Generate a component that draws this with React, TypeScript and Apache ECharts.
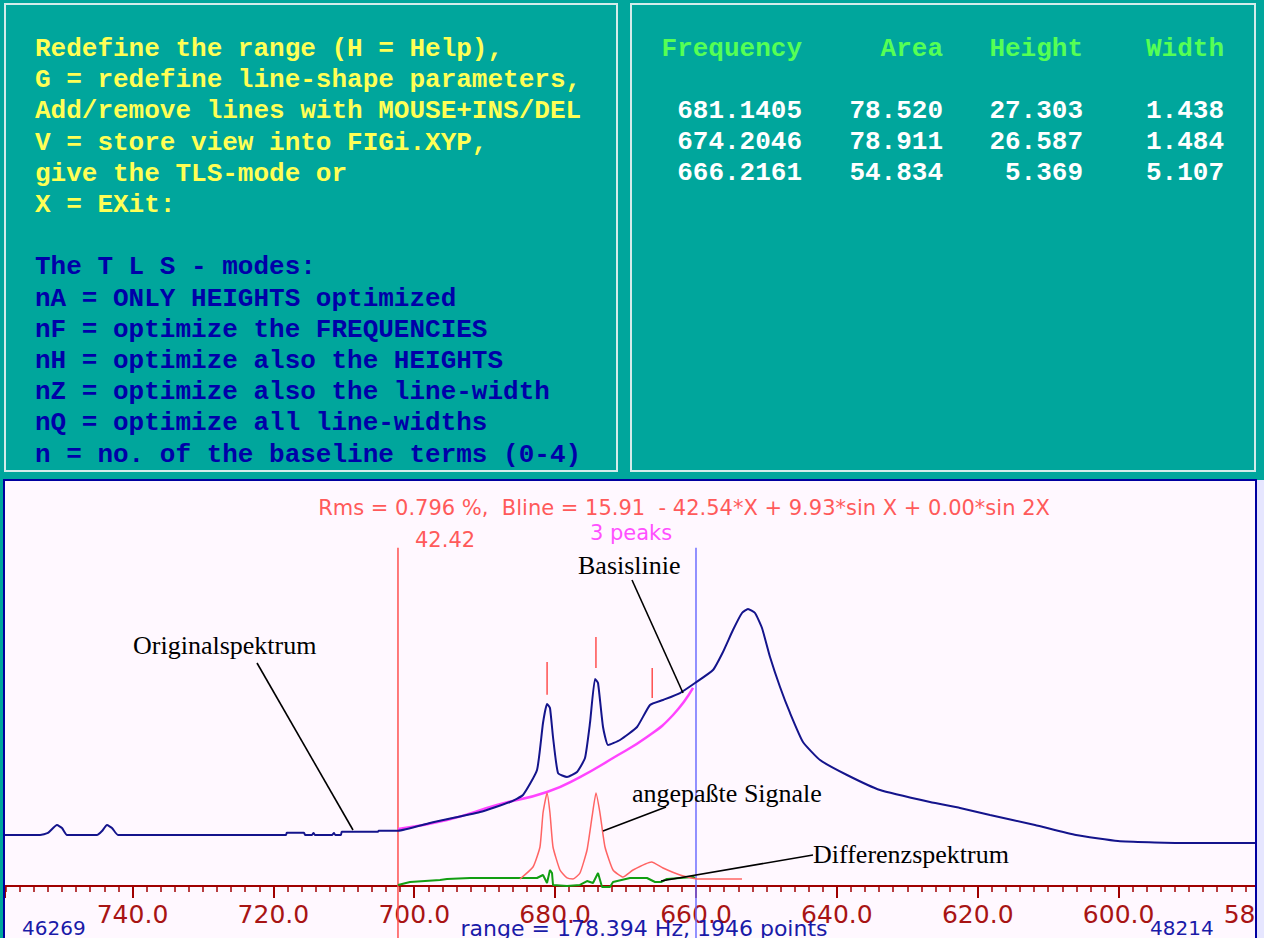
import React, { useEffect, useRef } from 'react';
import * as echarts from 'echarts';

// ---------- text of the DOS panels ----------
const helpLines = [
  'Redefine the range (H = Help),',
  'G = redefine line-shape parameters,',
  'Add/remove lines with MOUSE+INS/DEL',
  'V = store view into FIGi.XYP,',
  'give the TLS-mode or',
  'X = EXit:',
];
const modeLines = [
  'The T L S - modes:',
  'nA = ONLY HEIGHTS optimized',
  'nF = optimize the FREQUENCIES',
  'nH = optimize also the HEIGHTS',
  'nZ = optimize also the line-width',
  'nQ = optimize all line-widths',
  'n = no. of the baseline terms (0-4)',
];
const tableHeaders = ['Frequency', 'Area', 'Height', 'Width'];
const fitFrequencies = ['681.1405', '674.2046', '666.2161'];
const fitAreas = ['78.520', '78.911', '54.834'];
const fitHeights = ['27.303', '26.587', '5.369'];
const fitWidths = ['1.438', '1.484', '5.107'];

// ---------- spectrum data (frequency, intensity) ----------
const originalSpectrum: [number, number][] = [
  [758.1, 12.59], [753.13, 12.59], [752.0, 13.09], [750.72, 15.06], [750.01, 14.32], [749.3, 12.59],
  [745.04, 12.59], [744.33, 13.58], [743.62, 15.06], [742.91, 14.32], [742.06, 12.59], [718.21, 12.59],
  [718.1, 13.16], [715.65, 13.16], [715.5, 12.59], [714.52, 12.59], [714.3, 13.09], [714.1, 12.59],
  [711.68, 12.59], [711.4, 13.09], [711.2, 12.59], [710.4, 12.59], [710.3, 13.41], [705.15, 13.41],
  [705.05, 13.65], [702.31, 13.65], [697.76, 15.56], [690.66, 18.27], [686.41, 20.74], [684.56, 22.47],
  [682.57, 28.64], [681.72, 40.25], [681.15, 44.94], [680.73, 43.95], [680.3, 36.79], [679.59, 27.9],
  [678.31, 26.91], [676.89, 28.15], [675.76, 31.6], [675.05, 40.25], [674.34, 51.11], [673.91, 50.12],
  [673.2, 39.26], [672.49, 34.81], [670.79, 36.05], [668.37, 39.26], [666.53, 44.69], [664.68, 45.93],
  [662.27, 47.65], [660.14, 50.12], [657.59, 53.33], [656.17, 57.78], [654.75, 63.21], [653.47, 67.41],
  [652.62, 68.4], [651.62, 67.41], [650.63, 63.7], [649.49, 56.54], [648.07, 49.14], [646.65, 42.72],
  [644.81, 35.56], [642.39, 31.11], [638.56, 27.41], [633.88, 23.7], [626.78, 20.74], [622.52, 19.26],
  [618.26, 17.53], [611.87, 15.06], [606.05, 12.59], [600.09, 11.11], [591.29, 10.62], [580.64, 10.62],
];
const baselineFit: [number, number][] = [
  [702.31, 14.07], [695.35, 16.3], [688.25, 20.0], [681.15, 23.21], [676.47, 26.91],
  [671.78, 31.6], [666.96, 36.79], [663.26, 42.22], [660.42, 48.89],
];
const fittedSignals: [number, number][] = [
  [684.99, 1.73], [683.14, 4.69], [682.15, 9.63], [681.72, 18.02], [681.15, 22.96], [680.73, 18.02],
  [680.3, 9.63], [679.31, 3.95], [678.31, 1.98], [677.46, 1.73], [676.47, 3.21], [675.47, 8.89],
  [674.76, 17.04], [674.2, 22.96], [673.63, 18.02], [672.92, 9.63], [671.78, 3.95], [670.36, 2.22],
  [668.94, 3.95], [666.3, 5.93], [664.68, 4.44], [662.27, 2.72], [659.86, 1.73], [653.47, 1.73],
];
const differenceSpectrum: [number, number][] = [
  [702.31, 0.25], [700.6, 0.99], [696.34, 1.48], [695.35, 1.73], [692.08, 1.98], [686.83, 1.98],
  [682.57, 1.98], [681.72, 2.72], [681.15, 0.74], [680.73, 3.95], [680.44, 3.21], [680.3, 0.25],
  [678.31, 0.0], [676.47, 0.25], [675.47, 1.23], [674.62, 0.74], [673.91, 3.21], [673.34, -0.25],
  [672.21, -0.25], [671.78, 0.99], [669.37, 1.98], [666.96, 1.98], [665.82, 0.99], [664.97, 0.99],
  [664.12, 1.73], [660.42, 2.22], [660.14, 1.98],
];
const peakPositions = [681.1405, 674.2046, 666.2161];
const peakMarkerTop = [55.3, 61.5, 53.8];
const peakMarkerBottom = [47.2, 53.8, 46.4];
const rangeStart = 702.31;
const rangeEnd = 660.0;
const cursorTop = 83.5;
const cursorBottom = -12.84;

const xMin = 580;
const xMax = 758.1;
const xInterval = 20;

const headerText = 'Rms = 0.796 %,  Bline = 15.91  - 42.54*X + 9.93*sin X + 0.00*sin 2X';
const peaksText = '3 peaks';
const scaleText = '42.42';
const leftCount = '46269';
const rightCount = '48214';
const rangeText = 'range = 178.394 Hz, 1946 points';

const annotations = [
  { text: 'Originalspektrum', x: 133, y: 645, line: [257, 663, 353, 830] },
  { text: 'Basislinie', x: 578, y: 565, line: [632, 580, 683, 693] },
  { text: 'angepaßte Signale', x: 632, y: 793, line: [666, 807, 603, 831] },
  { text: 'Differenzspektrum', x: 813, y: 854, line: [813, 855, 661, 881] },
];

const MONO = 'bold 26px "Liberation Mono", "DejaVu Sans Mono", monospace';
const SERIF = '26px "Liberation Serif", "Times New Roman", serif';
const SANS = '"DejaVu Sans", sans-serif';

function txt(text: string, x: number, y: number, fill: string, font: string, align = 'left', z = 20) {
  return {
    type: 'text',
    x,
    y,
    z,
    style: {
      text,
      fill,
      font,
      align,
      verticalAlign: 'middle',
      textAlign: align,
      textVerticalAlign: 'middle',
    },
  };
}

export default function App() {
  const ref = useRef<HTMLDivElement>(null);

  useEffect(() => {
    if (!ref.current) return;
    const chart = echarts.init(ref.current, undefined, { renderer: 'svg' });

    const graphics: any[] = [];
    // panels
    graphics.push({
      type: 'rect', z: -20, shape: { x: 5, y: 4, width: 612, height: 467 },
      style: { fill: 'transparent', stroke: '#D2ECEA', lineWidth: 2 },
    });
    graphics.push({
      type: 'rect', z: -20, shape: { x: 631, y: 4, width: 624, height: 467 },
      style: { fill: 'transparent', stroke: '#D2ECEA', lineWidth: 2 },
    });
    // chart background
    graphics.push({
      type: 'rect', z: -10, shape: { x: 4, y: 480, width: 1260, height: 460 },
      style: { fill: '#FFF8FF' },
    });
    helpLines.forEach((t, i) => graphics.push(txt(t, 35, 49 + 31.2 * i, '#FFFF55', MONO)));
    modeLines.forEach((t, i) => graphics.push(txt(t, 35, 49 + 31.2 * (7 + i), '#0000A8', MONO)));
    const colRight = [802, 943, 1083, 1224];
    tableHeaders.forEach((t, i) => graphics.push(txt(t, colRight[i], 49, '#55FF55', MONO, 'right')));
    const cols = [fitFrequencies, fitAreas, fitHeights, fitWidths];
    cols.forEach((col, c) =>
      col.forEach((v, r) => graphics.push(txt(v, colRight[c], 111 + 31.2 * r, '#FFFFFF', MONO, 'right')))
    );
    // chart texts
    graphics.push(txt(headerText, 684, 508, '#FF5A5A', '21px ' + SANS, 'center'));
    graphics.push(txt(peaksText, 631, 533, '#FF50FF', '21px ' + SANS, 'center'));
    graphics.push(txt(scaleText, 415, 540, '#FF5A5A', '21px ' + SANS));
    graphics.push(txt(leftCount, 22, 928, '#1A1AA8', '20px ' + SANS));
    graphics.push(txt(rangeText, 644, 928, '#1A1AA8', '22px ' + SANS, 'center'));
    graphics.push(txt(rightCount, 1150, 928, '#1A1AA8', '20px ' + SANS));
    // annotations
    annotations.forEach((a) => {
      graphics.push(txt(a.text, a.x, a.y, '#000000', SERIF, 'left', 40));
      graphics.push({
        type: 'line', z: 40,
        shape: { x1: a.line[0], y1: a.line[1], x2: a.line[2], y2: a.line[3] },
        style: { stroke: '#000000', lineWidth: 1.6 },
      });
    });
    // right cover and chart border
    graphics.push({
      type: 'rect', z: 50, shape: { x: 1256, y: 480, width: 10, height: 460 },
      style: { fill: '#E6E6FF' },
    });
    graphics.push({
      type: 'rect', z: 55, shape: { x: 4, y: 480, width: 1252, height: 470 },
      style: { fill: 'transparent', stroke: '#0000A0', lineWidth: 2 },
    });

    const lineSeries = (name: string, data: any[], color: string, width: number, z = 3, smooth: any = false) => ({
      name,
      type: 'line',
      data,
      showSymbol: false,
      symbol: 'none',
      clip: false,
      smooth,
      z,
      lineStyle: { color, width },
      emphasis: { disabled: true },
    });

    const series: any[] = [
      lineSeries('rangeStart', [[rangeStart, cursorBottom], [rangeStart, cursorTop]], '#FF5050', 1.5, 2),
      lineSeries('rangeEnd', [[rangeEnd, cursorBottom], [rangeEnd, cursorTop]], '#6E6EFF', 1.5, 2),
      ...peakPositions.map((p, i) =>
        lineSeries('peak' + i, [[p, peakMarkerBottom[i]], [p, peakMarkerTop[i]]], '#FF5050', 1.5, 2)
      ),
      lineSeries('Basislinie', baselineFit, '#FF44FF', 2.5, 3, 0.5),
      lineSeries('Differenzspektrum', differenceSpectrum, '#129E12', 2, 4),
      lineSeries('angepaßte Signale', fittedSignals, '#FF6464', 1.5, 4, 0.15),
      lineSeries('Originalspektrum', originalSpectrum, '#14148C', 2, 5, 0.15),
    ];

    chart.setOption({
      animation: false,
      backgroundColor: '#00A69C',
      grid: { left: 5, right: 4.5, top: 481, bottom: 52, containLabel: false, outerBoundsMode: 'none' },
      xAxis: {
        type: 'value',
        inverse: true,
        min: xMin,
        max: xMax,
        interval: xInterval,
        axisLine: { onZero: false, lineStyle: { color: '#A00000', width: 2 } },
        axisTick: { length: 12, lineStyle: { color: '#A00000', width: 2 } },
        minorTick: { show: true, splitNumber: 10, length: 6, lineStyle: { color: '#A00000', width: 1.5 } },
        splitLine: { show: false },
        minorSplitLine: { show: false },
        axisLabel: {
          margin: 16,
          color: '#A81414',
          fontFamily: 'DejaVu Sans',
          fontSize: 25,
          showMaxLabel: false,
          hideOverlap: false,
          formatter: (v: number) => (Math.abs(v % xInterval) < 1e-6 ? v.toFixed(1) : ''),
        },
      },
      yAxis: {
        type: 'value',
        min: 0,
        max: 100,
        axisLine: { show: false },
        axisTick: { show: false },
        axisLabel: { show: false },
        splitLine: { show: false },
      },
      graphic: { elements: graphics },
      series,
    });

    return () => chart.dispose();
  }, []);

  return (
    <div
      ref={ref}
      style={{ position: 'absolute', left: 0, top: 0, width: 1264, height: 938 }}
    />
  );
}
